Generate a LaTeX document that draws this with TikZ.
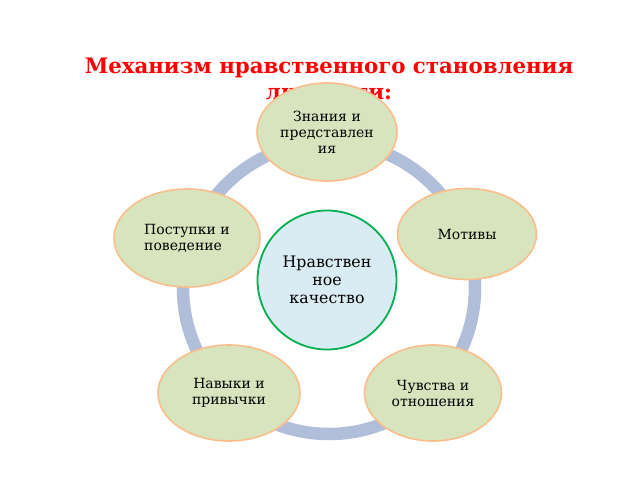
\documentclass[tikz,border=0pt]{standalone}
\usepackage{fontspec}
\setmainfont{DejaVu Serif}
\usetikzlibrary{shapes.geometric}
\definecolor{ringc}{RGB}{176,190,217}
\definecolor{ellfill}{RGB}{215,228,189}
\definecolor{ellborder}{RGB}{250,190,140}
\definecolor{cfill}{RGB}{218,236,243}
\definecolor{cborder}{RGB}{0,176,80}
\definecolor{titlered}{RGB}{255,0,0}
\tikzset{
  leaf/.style={ellipse, draw=ellborder, fill=ellfill, line width=1.6pt, inner sep=0pt, align=center, font=\fontsize{14}{16}\selectfont, text=black},
  core/.style={circle, draw=cborder, fill=cfill, line width=1.8pt, minimum size=139pt, inner sep=0pt, align=center, font=\fontsize{15.8}{18}\selectfont},
  ring/.style={draw=ringc, line width=12.5pt}
}
\begin{document}
\begin{tikzpicture}[x=1pt,y=-1pt]
\useasboundingbox (0,0) rectangle (640,480);
\node[font=\bfseries\fontsize{21.3}{26}\selectfont, text=titlered, align=center] (title) at (329,79) {Механизм нравственного становления\\личности:};
\coordinate (rc) at (329,288);
\draw[ring] (rc) circle (146);
\node[core] (center) at (327,280) {Нравствен\\ное\\качество};
\node[leaf, minimum width=140pt, minimum height=98pt] (know) at (327,132) {Знания и\\представлен\\ия};
\node[leaf, minimum width=146pt, minimum height=98pt, align=left] (acts) at (187,238) {Поступки и\\поведение};
\node[leaf, minimum width=139pt, minimum height=91pt] (motives) at (467,234) {Мотивы};
\node[leaf, minimum width=142pt, minimum height=96pt] (skills) at (229,393) {Навыки и\\привычки};
\node[leaf, minimum width=137pt, minimum height=96pt] (feel) at (433,393) {Чувства и\\отношения};
\end{tikzpicture}
\end{document}
